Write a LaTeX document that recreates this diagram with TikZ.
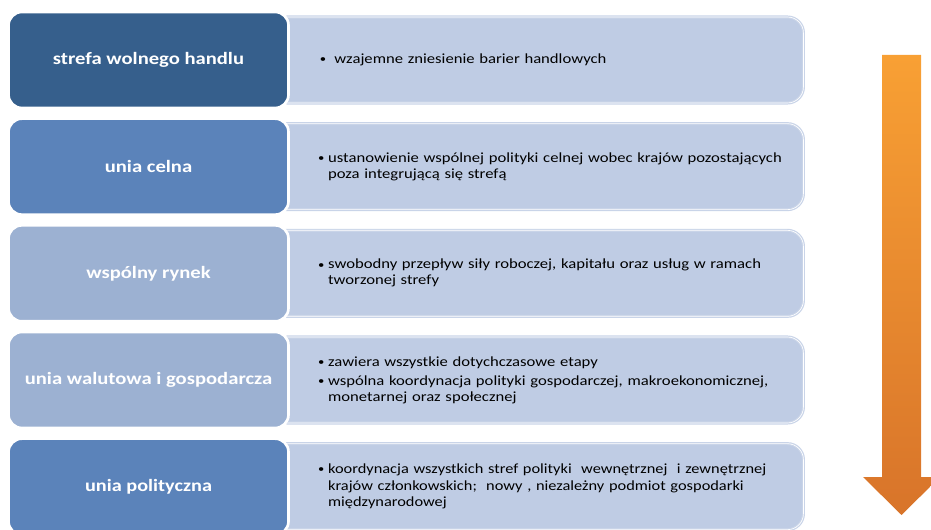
\documentclass[tikz,border=0pt]{standalone}
\usepackage{fontspec}
\setmainfont{Carlito}[FakeStretch=1.19]
\newfontfamily\narrowfont{Carlito}[FakeStretch=1.17]
\usetikzlibrary{positioning, backgrounds}
\definecolor{stageDark}{RGB}{54,95,140}
\definecolor{stageMid}{RGB}{91,131,186}
\definecolor{stageLight}{RGB}{156,177,210}
\definecolor{descFill}{RGB}{191,204,228}
\definecolor{descLine}{RGB}{201,212,232}
\definecolor{arrowTop}{RGB}{248,160,52}
\definecolor{arrowBottom}{RGB}{216,116,42}
\newcommand{\bul}[1]{\noindent\hangindent=7.5pt\hangafter=1\makebox[7.5pt][l]{\raisebox{0.6pt}{\fontsize{8}{8}\selectfont\textbullet}}#1\par}
\tikzset{
  stage/.style={rounded corners=10pt, draw=white, line width=2pt, minimum width=210pt,
    minimum height=72pt, text=white, align=center, font=\bfseries\fontsize{13}{15}\selectfont},
  desc/.style={rounded corners=12pt, fill=descFill, draw=descLine, double=white,
    double distance=0.5pt, line width=0.9pt, minimum width=399pt, minimum height=64.5pt},
  bullets/.style={anchor=west, text width=400pt, align=left, inner sep=0pt,
    font=\fontsize{10.5}{12}\selectfont}
}

\begin{document}
\begin{tikzpicture}[x=0.75pt, y=-0.75pt]
\path[use as bounding box, clip] (0,0) rectangle (931,530);
% etapy integracji
\node[stage, fill=stageDark] (sfh) at (148.5,60) {strefa wolnego handlu};
\node[stage, fill=stageMid, below=6pt of sfh] (uc) {unia celna};
\node[stage, fill=stageLight, below=6pt of uc] (wr) {wspólny rynek};
\node[stage, fill=stageLight, below=6pt of wr] (uwg) {unia walutowa i gospodarcza};
\node[stage, fill=stageMid, below=6pt of uwg, font=\narrowfont\bfseries\fontsize{13}{15}\selectfont] (up) {unia polityczna};
% opisy
\begin{scope}[on background layer]
\node[desc, right=-14.25pt of sfh] (dsfh) {};
\node[desc, right=-14.25pt of uc] (duc) {};
\node[desc, right=-14.25pt of wr] (dwr) {};
\node[desc, right=-14.25pt of uwg] (duwg) {};
\node[desc, right=-14.25pt of up] (dup) {};
\end{scope}
\node[bullets] (tsfh) at ([xshift=36.5pt]dsfh.west) {\bul{\ wzajemne zniesienie barier handlowych}};
\node[bullets] (tuc) at ([xshift=35.25pt]duc.west) {\bul{ustanowienie wspólnej polityki celnej wobec krajów pozostających\newline poza integrującą się strefą}};
\node[bullets] (twr) at ([xshift=35.25pt]dwr.west) {\bul{swobodny przepływ siły roboczej, kapitału oraz usług w ramach\newline tworzonej strefy}};
\node[bullets] (tuwg) at ([xshift=35.25pt]duwg.west) {\bul{zawiera wszystkie dotychczasowe etapy}\vspace{2.25pt}
  \bul{wspólna koordynacja polityki gospodarczej, makroekonomicznej,\newline monetarnej oraz społecznej}};
\node[bullets, font=\narrowfont\fontsize{10.5}{12.4}\selectfont] (tup) at ([xshift=35.25pt]dup.west) {\bul{koordynacja wszystkich stref polityki\ \ wewnętrznej\ \ i zewnętrznej\newline krajów członkowskich;\ \ nowy , niezależny podmiot gospodarki\newline międzynarodowej}};
% strzalka
\shade[top color=arrowTop, bottom color=arrowBottom]
  (882,55) -- (921,55) -- (921,477) -- (940,477) -- (901.5,515) -- (863,477) -- (882,477) -- cycle;
\end{tikzpicture}
\end{document}
